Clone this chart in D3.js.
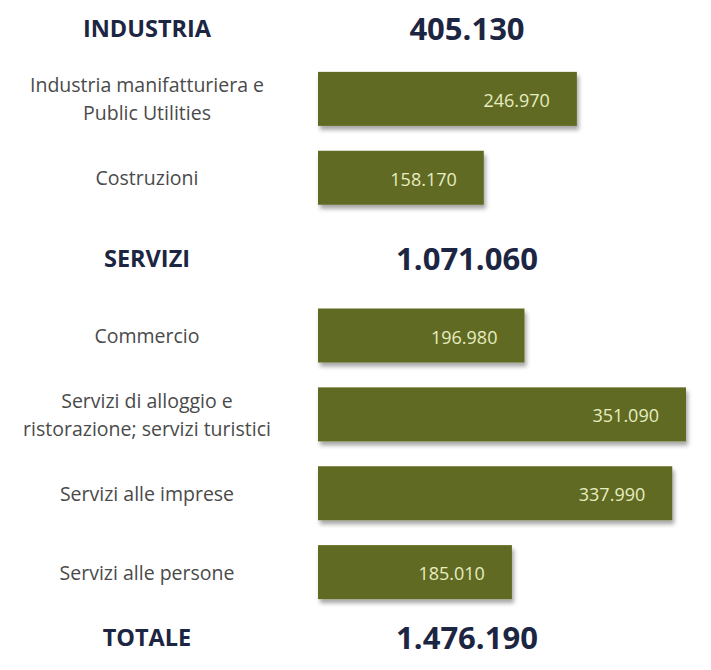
<!DOCTYPE html>
<html>
<head>
<meta charset="utf-8">
<script src="https://cdn.jsdelivr.net/npm/d3@7"></script>
<style>
  html, body { margin: 0; padding: 0; background: #ffffff; }
  svg { display: block; }
</style>
</head>
<body>
<svg id="chart" width="711" height="670"></svg>
<script>
// Occupati per settore (valori assoluti)
const categories = [
  "Industria manifatturiera e\nPublic Utilities",
  "Costruzioni",
  "Commercio",
  "Servizi di alloggio e\nristorazione; servizi turistici",
  "Servizi alle imprese",
  "Servizi alle persone"
];
const values = [246970, 158170, 196980, 351090, 337990, 185010];
const valueLabels = ["246.970", "158.170", "196.980", "351.090", "337.990", "185.010"];

const groupNames = ["INDUSTRIA", "SERVIZI", "TOTALE"];
const groupTotals = ["405.130", "1.071.060", "1.476.190"];
// rows order: group header before its members, total at the end
const rowOrder = ["g0", "c0", "c1", "g1", "c2", "c3", "c4", "c5", "g2"];

const svg = d3.select("#chart");

const labelX = 147;   // centre of the left text column
const x = d3.scaleLinear().domain([0, 351090]).range([318, 686]);
const y = d3.scalePoint().domain(rowOrder).range([20, 651]);
const barH = 54;

const defs = svg.append("defs");
const f = defs.append("filter").attr("id", "shadow")
  .attr("x", "-5%").attr("y", "-20%").attr("width", "115%").attr("height", "160%");
f.append("feDropShadow")
  .attr("dx", 2).attr("dy", 4).attr("stdDeviation", 2.2)
  .attr("flood-color", "#000").attr("flood-opacity", 0.35);

const font = "'Open Sans', Lato, sans-serif";

// group headers
const headerNudge = [8, 1, -14];
groupNames.forEach((name, i) => {
  const cy = y("g" + i) + headerNudge[i];
  svg.append("text")
    .attr("x", labelX).attr("y", cy)
    .attr("text-anchor", "middle").attr("dominant-baseline", "central")
    .attr("font-family", font).attr("font-weight", 700).attr("font-size", 23.5)
    .attr("fill", "#1c2542")
    .text(name);
  svg.append("text")
    .attr("x", 467).attr("y", cy)
    .attr("text-anchor", "middle").attr("dominant-baseline", "central")
    .attr("font-family", font).attr("font-weight", 700).attr("font-size", 31)
    .attr("fill", "#1c2542")
    .text(groupTotals[i]);
});

const rows = categories.map((c, i) => ({ cat: c, value: values[i], label: valueLabels[i], key: "c" + i }));

// category labels
rows.forEach(d => {
  const lines = d.cat.split("\n");
  const cy = y(d.key);
  const lh = 28;
  const t = svg.append("text")
    .attr("text-anchor", "middle")
    .attr("font-family", font).attr("font-size", 19.5)
    .attr("fill", "#4a4a4a");
  lines.forEach((ln, j) => {
    t.append("tspan")
      .attr("x", labelX)
      .attr("y", cy + (j - (lines.length - 1) / 2) * lh)
      .attr("dominant-baseline", "central")
      .text(ln);
  });
});

// bars
svg.append("g").selectAll("rect").data(rows).join("rect")
  .attr("x", x(0))
  .attr("y", d => y(d.key) - barH / 2)
  .attr("width", d => x(d.value) - x(0))
  .attr("height", barH)
  .attr("fill", "#606b22")
  .attr("filter", "url(#shadow)");

// value labels inside bars
svg.append("g").selectAll("text").data(rows).join("text")
  .attr("x", d => x(d.value) - 27)
  .attr("y", d => y(d.key) + 1)
  .attr("text-anchor", "end").attr("dominant-baseline", "central")
  .attr("font-family", font).attr("font-size", 18)
  .attr("fill", "#e6edc0")
  .text(d => d.label);
</script>
</body>
</html>
